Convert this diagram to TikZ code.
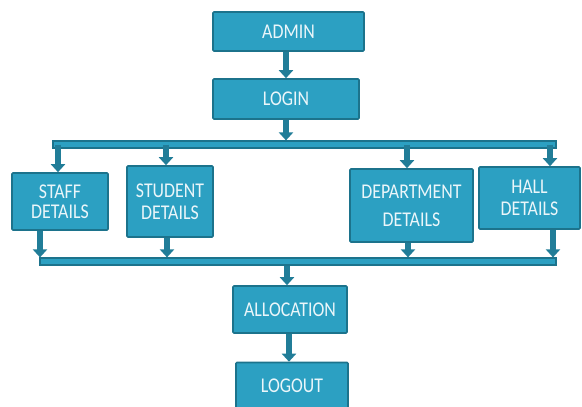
\documentclass[tikz,border=0pt]{standalone}
\usepackage{fontspec}
\setmainfont{Carlito}
\newfontfamily\boxfont[FakeStretch=0.85]{Carlito}
\usetikzlibrary{arrows.meta}
\definecolor{boxfill}{RGB}{44,160,194}
\definecolor{boxline}{RGB}{28,115,140}
\definecolor{arrcol}{RGB}{33,125,152}
\definecolor{txt}{RGB}{235,246,250}
\tikzset{
  box/.style={draw=boxline, line width=1.6pt, fill=boxfill, rounded corners=1pt,
    text=txt, font=\boxfont\fontsize{21}{20}\selectfont, align=center, inner sep=0pt},
  bar/.style={draw=boxline, line width=1.2pt, fill=boxfill, inner sep=0pt},
  arr/.style={draw=arrcol, line width=5.5pt, -{Triangle[width=14pt,length=8pt]}}
}
\begin{document}
\begin{tikzpicture}[x=1pt,y=-1pt]
\useasboundingbox (0,0) rectangle (582,407);
\fill[white] (0,0) rectangle (582,407);
% bars
\node[bar, minimum width=503pt, minimum height=7pt] (topbar) at (304.5,144.5) {};
\node[bar, minimum width=516pt, minimum height=7pt] (botbar) at (298,261.5) {};
% boxes
\node[box, minimum width=151pt, minimum height=39pt] (admin) at (288.5,31.5) {ADMIN};
\node[box, minimum width=146pt, minimum height=40pt] (login) at (286,99) {LOGIN};
\node[box, minimum width=96pt, minimum height=57pt] (staff) at (60,201.5) {STAFF\\DETAILS};
\node[box, minimum width=86pt, minimum height=71pt] (student) at (170,201.5) {STUDENT\\[2pt]DETAILS};
\node[box, minimum width=123pt, minimum height=73pt] (dept) at (411.5,205.5) {DEPARTMENT\\[8pt]DETAILS};
\node[box, minimum width=101pt, minimum height=62pt] (hall) at (529.5,198) {HALL\\[2pt]DETAILS};
\node[box, minimum width=114pt, minimum height=47pt] (alloc) at (290,309.5) {ALLOCATION};
\node[box, minimum width=112pt, minimum height=47pt] (logout) at (292,386) {LOGOUT};
% x positions of connectors
\coordinate (xa) at (286,0);
\coordinate (xs1) at (58,0);
\coordinate (xt1) at (166,0);
\coordinate (xd1) at (407,0);
\coordinate (xh1) at (550,0);
\coordinate (xs2) at (40,0);
\coordinate (xt2) at (167,0);
\coordinate (xd2) at (408,0);
\coordinate (xh2) at (553,0);
\coordinate (xb) at (287,0);
\coordinate (xc) at (289,0);
% connectors
\draw[arr] (admin.south -| xa) -- (login.north -| xa);
\draw[arr] (login.south -| xa) -- (topbar.north -| xa);
\draw[arr] (topbar.center -| xs1) -- (staff.north -| xs1);
\draw[arr] (topbar.center -| xt1) -- (student.north -| xt1);
\draw[arr] (topbar.center -| xd1) -- (dept.north -| xd1);
\draw[arr] (topbar.center -| xh1) -- (hall.north -| xh1);
\draw[arr] (staff.south -| xs2) -- (botbar.north -| xs2);
\draw[arr] (student.south -| xt2) -- (botbar.north -| xt2);
\draw[arr] (dept.south -| xd2) -- (botbar.north -| xd2);
\draw[arr] (hall.south -| xh2) -- (botbar.north -| xh2);
\draw[arr] (botbar.south -| xb) -- (alloc.north -| xb);
\draw[arr] (alloc.south -| xc) -- (logout.north -| xc);
\end{tikzpicture}
\end{document}
